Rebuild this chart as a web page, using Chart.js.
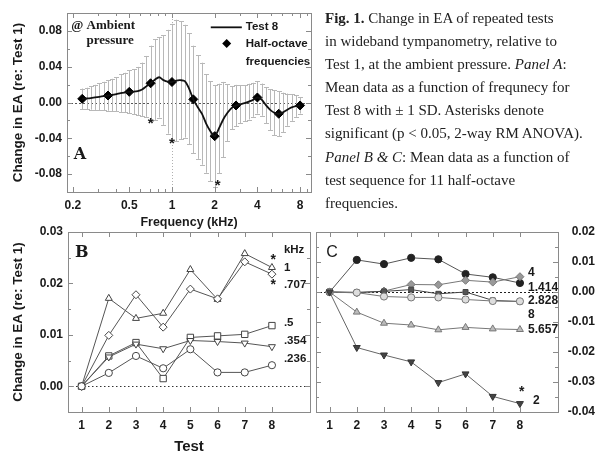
<!DOCTYPE html>
<html>
<head>
<meta charset="utf-8">
<script src="https://cdn.jsdelivr.net/npm/chart.js@4.4.0/dist/chart.umd.min.js"></script>
<style>
  body { margin: 0; background: #fff; }
  #wrap { position: relative; width: 595px; height: 454px; overflow: hidden; background: #fff; }
  canvas { position: absolute; }
  #caption { position: absolute; left: 325px; top: 7px; font-family: "Liberation Serif", serif; font-size: 15px;
             line-height: 23.1px; color: #222; white-space: nowrap; }
</style>
</head>
<body>
<div id="wrap">
  <canvas id="chartA" width="330" height="232" style="left:0;top:0"></canvas>
  <canvas id="chartB" width="318" height="239" style="left:0;top:215px"></canvas>
  <canvas id="chartC" width="285" height="239" style="left:310px;top:215px"></canvas>
  <div id="caption">
    <div><b>Fig. 1.</b> Change in EA of repeated tests</div>
    <div>in wideband tympanometry, relative to</div>
    <div>Test 1, at the ambient pressure. <i>Panel A</i>:</div>
    <div>Mean data as a function of frequnecy for</div>
    <div>Test 8 with ± 1 SD. Asterisks denote</div>
    <div>significant (p &lt; 0.05, 2-way RM ANOVA).</div>
    <div><i>Panel B &amp; C</i>: Mean data as a function of</div>
    <div>test sequence for 11 half-octave</div>
    <div>frequencies.</div>
  </div>
</div>
<script>
// ---- panel A : Test 8 vs frequency (1/10 octave), mean and SD
const freqs = [0.233, 0.25, 0.268, 0.287, 0.308, 0.330, 0.354, 0.379, 0.406, 0.435, 0.467, 0.5,
  0.536, 0.574, 0.616, 0.660, 0.707, 0.758, 0.812, 0.871, 0.933, 1, 1.072, 1.149,
  1.231, 1.320, 1.414, 1.516, 1.625, 1.741, 1.866, 2, 2.144, 2.297, 2.462,
  2.639, 2.828, 3.031, 3.249, 3.482, 3.732, 4, 4.287, 4.595, 4.925, 5.278,
  5.657, 6.063, 6.498, 6.964, 7.464, 8];
const test8Mean = [0.0041, 0.0045, 0.0050, 0.0057, 0.0064, 0.0071, 0.0078, 0.0085, 0.0094, 0.0104, 0.0112, 0.0119,
  0.0121, 0.0128, 0.0146, 0.0180, 0.0215, 0.0255, 0.0282, 0.0250, 0.0232, 0.0229, 0.0245, 0.0249,
  0.0238, 0.0155, 0.0035, -0.0050, -0.0125, -0.0235, -0.0320, -0.0376, -0.0290, -0.0190, -0.0115,
  -0.0060, -0.0033, -0.0020, -0.0008, 0.0010, 0.0030, 0.0056, 0.0032, -0.0030, -0.0082, -0.0115,
  -0.0126, -0.0110, -0.0080, -0.0055, -0.0040, -0.0033];
const test8SD = [0.0115, 0.012, 0.013, 0.014, 0.015, 0.016, 0.017, 0.018, 0.019, 0.021, 0.022, 0.024,
  0.025, 0.027, 0.030, 0.034, 0.042, 0.045, 0.045, 0.050, 0.058, 0.065, 0.068, 0.066,
  0.063, 0.062, 0.060, 0.058, 0.057, 0.055, 0.056, 0.057, 0.050, 0.042, 0.032,
  0.024, 0.023, 0.021, 0.020, 0.020, 0.019, 0.018, 0.018, 0.020, 0.023, 0.025,
  0.025, 0.022, 0.018, 0.015, 0.012, 0.009];
const halfOctFreqs = [0.233, 0.354, 0.5, 0.707, 1, 1.414, 2, 2.828, 4, 5.657, 8];
const halfOctMean = [0.0041, 0.0078, 0.0119, 0.0215, 0.0229, 0.0035, -0.0376, -0.0033, 0.0056, -0.0126, -0.0033];
const freqTicks = [0.2, 0.3, 0.4, 0.5, 0.6, 0.7, 0.8, 0.9, 1, 2, 3, 4, 5, 6, 7, 8, 9];
const freqLabels = [0.2, 0.5, 1, 2, 4, 8];
const eaTicksA = [-0.1, -0.08, -0.06, -0.04, -0.02, 0, 0.02, 0.04, 0.06, 0.08, 0.1];
const eaLabelsA = [-0.08, -0.04, 0, 0.04, 0.08];

// ---- panels B and C : change vs test number, per half-octave frequency (kHz)
const tests = [1, 2, 3, 4, 5, 6, 7, 8];
const b1000 = [0, 0.0171, 0.0132, 0.0142, 0.0227, 0.0169, 0.0258, 0.0231];
const b707 = [0, 0.0099, 0.0178, 0.0115, 0.0189, 0.0170, 0.0242, 0.0218];
const b500 = [0, 0.0059, 0.0085, 0.0015, 0.0095, 0.0098, 0.0101, 0.0118];
const b354 = [0, 0.0057, 0.0082, 0.0073, 0.0089, 0.0087, 0.0084, 0.0077];
const b236 = [0, 0.0026, 0.0059, 0.0035, 0.0072, 0.0027, 0.0027, 0.0041];
const eaTicksB = [-0.005, 0, 0.005, 0.01, 0.015, 0.02, 0.025, 0.03];
const eaLabelsB = [0, 0.01, 0.02, 0.03];

const c4000 = [0, -0.0003, 0.0003, 0.0025, 0.0024, 0.0039, 0.0033, 0.0051];
const c1414 = [0, 0.0107, 0.0093, 0.0114, 0.0109, 0.0060, 0.0049, 0.0030];
const c2828 = [0, -0.0002, -0.0015, -0.0018, -0.0018, -0.0025, -0.0030, -0.0031];
const c8000 = [0, -0.0001, 0.0002, 0.0008, -0.0006, 0.0000, -0.0028, -0.0032];
const c5657 = [0, -0.0067, -0.0104, -0.0110, -0.0126, -0.0118, -0.0123, -0.0125];
const c2000 = [0, -0.0185, -0.0210, -0.0233, -0.0302, -0.0273, -0.0348, -0.0372];
const eaTicksC = [-0.04, -0.035, -0.03, -0.025, -0.02, -0.015, -0.01, -0.005, 0, 0.005, 0.01, 0.015, 0.02];
const eaLabelsC = [-0.04, -0.03, -0.02, -0.01, 0, 0.01, 0.02];

const SANS = "'Liberation Sans', Arial, sans-serif";
const SERIF = "'DejaVu Serif', serif";
Chart.defaults.font.family = SANS;
Chart.defaults.color = '#1a1a1a';

// frame, inner ticks, reference lines, error bars and text notes
const ann = {
  id: 'ann',
  beforeDatasetsDraw(chart, args, o) {
    const {ctx, chartArea: a, scales: {x, y}} = chart;
    ctx.save();
    ctx.lineWidth = 1;
    (o.vlines || []).forEach(v => {
      const px = Math.round(x.getPixelForValue(v.value)) + 0.5;
      ctx.strokeStyle = v.color; ctx.setLineDash(v.dash);
      ctx.beginPath(); ctx.moveTo(px, a.top); ctx.lineTo(px, a.bottom); ctx.stroke();
    });
    (o.hlines || []).forEach(h => {
      const py = Math.round(y.getPixelForValue(h.value)) + 0.5;
      ctx.strokeStyle = h.color; ctx.setLineDash(h.dash);
      ctx.beginPath(); ctx.moveTo(a.left, py); ctx.lineTo(a.right, py); ctx.stroke();
    });
    ctx.setLineDash([]);
    if (o.err) {
      ctx.strokeStyle = o.err.color;
      for (let i = 0; i < freqs.length; i++) {
        const px = Math.round(x.getPixelForValue(freqs[i])) + 0.5;
        const y1 = y.getPixelForValue(test8Mean[i] - test8SD[i]);
        const y2 = y.getPixelForValue(test8Mean[i] + test8SD[i]);
        ctx.beginPath();
        ctx.moveTo(px, y1); ctx.lineTo(px, y2);
        ctx.moveTo(px - 2.5, Math.round(y1) + 0.5); ctx.lineTo(px + 2.5, Math.round(y1) + 0.5);
        ctx.moveTo(px - 2.5, Math.round(y2) + 0.5); ctx.lineTo(px + 2.5, Math.round(y2) + 0.5);
        ctx.stroke();
      }
    }
    ctx.restore();
  },
  afterDatasetsDraw(chart, args, o) {
    const {ctx, scales: {x, y}} = chart;
    ctx.save();
    if (o.legend) {
      const L = o.legend;
      const ly = y.getPixelForValue(L.lineY);
      ctx.strokeStyle = '#111'; ctx.lineWidth = 1.8;
      ctx.beginPath(); ctx.moveTo(x.getPixelForValue(L.x1), ly); ctx.lineTo(x.getPixelForValue(L.x2), ly); ctx.stroke();
      const dx = x.getPixelForValue(L.dx), dy = y.getPixelForValue(L.dy);
      ctx.fillStyle = '#000';
      ctx.beginPath(); ctx.moveTo(dx, dy - 4.5); ctx.lineTo(dx + 4.5, dy); ctx.lineTo(dx, dy + 4.5); ctx.lineTo(dx - 4.5, dy); ctx.fill();
    }
    (o.texts || []).forEach(t => {
      ctx.font = t.font;
      ctx.fillStyle = t.color || '#1a1a1a';
      ctx.textAlign = t.align || 'left';
      ctx.textBaseline = 'middle';
      ctx.fillText(t.text, x.getPixelForValue(t.x), y.getPixelForValue(t.y));
    });
    ctx.restore();
  },
  afterDraw(chart, args, o) {
    const {ctx, chartArea: a} = chart;
    ctx.save();
    ctx.strokeStyle = o.frame || '#888';
    ctx.lineWidth = 1;
    ctx.strokeRect(Math.round(a.left) + 0.5, Math.round(a.top) + 0.5, Math.round(a.right - a.left), Math.round(a.bottom - a.top));
    Object.values(chart.scales).forEach(s => {
      s.ticks.forEach(t => {
        const len = t.label !== '' ? 5 : 3;
        const p = Math.round(s.getPixelForValue(t.value)) + 0.5;
        ctx.beginPath();
        if (s.isHorizontal()) {
          ctx.moveTo(p, a.bottom); ctx.lineTo(p, a.bottom - len);
          ctx.moveTo(p, a.top); ctx.lineTo(p, a.top + len);
        } else {
          ctx.moveTo(a.left, p); ctx.lineTo(a.left + len, p);
          ctx.moveTo(a.right, p); ctx.lineTo(a.right - len, p);
        }
        ctx.stroke();
      });
    });
    ctx.restore();
  }
};

const tickFont = {family: SANS, weight: 'bold', size: 12};
const yTitle = {display: true, text: 'Change in EA (re: Test 1)', color: '#1a1a1a',
  font: {family: SANS, weight: 'bold', size: 13.5}, padding: {top: 10.4, bottom: 0}};
const noGrid = {display: false, drawTicks: false};

new Chart(document.getElementById('chartA'), {
  type: 'line',
  data: {
    datasets: [{
      label: 'Test 8',
      data: freqs.map((f, i) => ({x: f, y: test8Mean[i]})),
      borderColor: '#111', borderWidth: 1.8, pointRadius: 0, tension: 0.3, fill: false
    }, {
      label: 'Half-octave frequencies',
      data: halfOctFreqs.map((f, i) => ({x: f, y: halfOctMean[i]})),
      showLine: false, pointStyle: 'rectRot', pointRadius: 4.5,
      pointBackgroundColor: '#000', pointBorderColor: '#000'
    }]
  },
  options: {
    responsive: false, animation: false, devicePixelRatio: 1,
    layout: {padding: {left: 0, top: 13, right: 19, bottom: 0}},
    plugins: {
      legend: {display: false}, tooltip: {enabled: false},
      ann: {
        frame: '#8a8a8a',
        vlines: [{value: 1, color: '#b0b0b0', dash: [1, 2]}],
        hlines: [{value: 0, color: '#555', dash: [2, 2]}],
        err: {color: '#b8b8b8'},
        legend: {x1: 1.877, x2: 3.107, lineY: 0.084, dx: 2.43, dy: 0.066},
        texts: [
          {x: 3.31, y: 0.084, text: 'Test 8', font: 'bold 11.5px ' + SANS},
          {x: 3.31, y: 0.066, text: 'Half-octave', font: 'bold 11.5px ' + SANS},
          {x: 3.31, y: 0.046, text: 'frequencies', font: 'bold 11.5px ' + SANS},
          {x: 0.195, y: 0.0863, text: '@ Ambient', font: 'bold 13px ' + "'Liberation Serif', serif"},
          {x: 0.25, y: 0.0695, text: 'pressure', font: 'bold 13px ' + "'Liberation Serif', serif"},
          {x: 0.2245, y: -0.0583, text: 'A', align: 'center', font: 'bold 16px ' + SERIF},
          {x: 0.708, y: -0.0235, text: '*', align: 'center', font: 'bold 15px ' + SANS},
          {x: 1.0, y: -0.0459, text: '*', align: 'center', font: 'bold 15px ' + SANS},
          {x: 2.10, y: -0.093, text: '*', align: 'center', font: 'bold 15px ' + SANS}
        ]
      }
    },
    scales: {
      x: {
        type: 'logarithmic', min: 0.182, max: 9.55,
        afterBuildTicks: s => { s.ticks = freqTicks.map(v => ({value: v})); },
        afterFit: s => { s.height = 40; },
        ticks: {autoSkip: false, maxRotation: 0, padding: 6, font: tickFont, color: '#1a1a1a',
          callback: v => freqLabels.includes(v) ? String(v) : ''},
        grid: noGrid, border: {display: false},
        title: {display: true, text: 'Frequency (kHz)', color: '#1a1a1a',
          font: {family: SANS, weight: 'bold', size: 12.5}, padding: {top: 0, bottom: 2.2}}
      },
      y: {
        min: -0.1, max: 0.1,
        afterBuildTicks: s => { s.ticks = eaTicksA.map(v => ({value: v})); },
        afterFit: s => { s.width = 67; },
        ticks: {autoSkip: false, padding: 5, font: tickFont, color: '#1a1a1a',
          callback: v => eaLabelsA.includes(v) ? v.toFixed(2) : ''},
        grid: noGrid, border: {display: false},
        title: yTitle
      }
    }
  },
  plugins: [ann]
});

function series(vals, style, rot, fill, stroke, line, radius) {
  return {
    data: tests.map((t, i) => ({x: t, y: vals[i]})),
    borderColor: line, borderWidth: 1, tension: 0, fill: false,
    pointStyle: style, rotation: rot, pointRadius: radius,
    pointBackgroundColor: fill, pointBorderColor: stroke, pointBorderWidth: 1
  };
}

const testAxis = {
  type: 'linear', min: 0.5, max: 9.4,
  afterBuildTicks: s => { s.ticks = tests.map(v => ({value: v})); },
  afterFit: s => { s.height = 42; },
  ticks: {autoSkip: false, maxRotation: 0, padding: 6, font: tickFont, color: '#1a1a1a', callback: v => String(v)},
  grid: noGrid, border: {display: false}
};

new Chart(document.getElementById('chartB'), {
  type: 'line',
  data: {
    datasets: [
      series(b236, 'circle', 0, '#fff', '#444', '#555', 3.6),
      series(b354, 'triangle', 180, '#fff', '#444', '#555', 4),
      series(b500, 'rect', 0, '#fff', '#444', '#555', 4.5),
      series(b707, 'rectRot', 0, '#fff', '#444', '#555', 4),
      series(b1000, 'triangle', 0, '#fff', '#444', '#555', 4)
    ]
  },
  options: {
    responsive: false, animation: false, devicePixelRatio: 1,
    layout: {padding: {left: 0, top: 17, right: 8, bottom: 0}},
    plugins: {
      legend: {display: false}, tooltip: {enabled: false},
      ann: {
        frame: '#8a8a8a',
        hlines: [{value: 0, color: '#333', dash: [1.5, 2.5]}],
        texts: [
          {x: 1.01, y: 0.0259, text: 'B', align: 'center', font: 'bold 16px ' + SERIF},
          {x: 8.44, y: 0.0266, text: 'kHz', font: 'bold 11.5px ' + SANS},
          {x: 8.05, y: 0.0245, text: '*', align: 'center', font: 'bold 14px ' + SANS},
          {x: 8.44, y: 0.0231, text: '1', font: 'bold 11.5px ' + SANS},
          {x: 8.05, y: 0.0196, text: '*', align: 'center', font: 'bold 14px ' + SANS},
          {x: 8.44, y: 0.0198, text: '.707', font: 'bold 11.5px ' + SANS},
          {x: 8.44, y: 0.0124, text: '.5', font: 'bold 11.5px ' + SANS},
          {x: 8.44, y: 0.0089, text: '.354', font: 'bold 11.5px ' + SANS},
          {x: 8.44, y: 0.0054, text: '.236', font: 'bold 11.5px ' + SANS}
        ]
      }
    },
    scales: {
      x: Object.assign({}, testAxis, {
        title: {display: true, text: 'Test', color: '#1a1a1a',
          font: {family: SANS, weight: 'bold', size: 15, lineHeight: 1}, padding: {top: 0, bottom: 0}}
      }),
      y: {
        min: -0.005, max: 0.03,
        afterBuildTicks: s => { s.ticks = eaTicksB.map(v => ({value: v})); },
        afterFit: s => { s.width = 68; },
        ticks: {autoSkip: false, padding: 5, font: tickFont, color: '#1a1a1a',
          callback: v => eaLabelsB.includes(v) ? v.toFixed(2) : ''},
        grid: noGrid, border: {display: false},
        title: yTitle
      }
    }
  },
  plugins: [ann]
});

new Chart(document.getElementById('chartC'), {
  type: 'line',
  data: {
    datasets: [
      series(c2000, 'triangle', 180, '#444', '#333', '#666', 4),
      series(c5657, 'triangle', 0, '#bbb', '#777', '#777', 4),
      series(c2828, 'circle', 0, '#ddd', '#777', '#777', 3.6),
      series(c8000, 'rect', 0, '#555', '#444', '#444', 3.5),
      series(c4000, 'rectRot', 0, '#999', '#777', '#777', 4),
      series(c1414, 'circle', 0, '#222', '#222', '#555', 3.6)
    ]
  },
  options: {
    responsive: false, animation: false, devicePixelRatio: 1,
    layout: {padding: {left: 6, top: 17, right: 0, bottom: 0}},
    plugins: {
      legend: {display: false}, tooltip: {enabled: false},
      ann: {
        frame: '#8a8a8a',
        hlines: [{value: 0, color: '#222', dash: [2, 2]}],
        texts: [
          {x: 1.09, y: 0.013, text: 'C', align: 'center', font: '16px ' + SANS},
          {x: 8.30, y: 0.0066, text: '4', font: 'bold 12px ' + SANS},
          {x: 8.30, y: 0.0014, text: '1.414', font: 'bold 12px ' + SANS},
          {x: 8.30, y: -0.0029, text: '2.828', font: 'bold 12px ' + SANS},
          {x: 8.30, y: -0.0077, text: '8', font: 'bold 12px ' + SANS},
          {x: 8.30, y: -0.0127, text: '5.657', font: 'bold 12px ' + SANS},
          {x: 8.07, y: -0.0334, text: '*', align: 'center', font: 'bold 14px ' + SANS},
          {x: 8.48, y: -0.0361, text: '2', font: 'bold 12px ' + SANS}
        ]
      }
    },
    scales: {
      x: testAxis,
      y: {
        position: 'right', min: -0.04, max: 0.02,
        afterBuildTicks: s => { s.ticks = eaTicksC.map(v => ({value: v})); },
        afterFit: s => { s.width = 37; },
        ticks: {autoSkip: false, padding: 8, crossAlign: 'far', font: tickFont, color: '#1a1a1a',
          callback: v => eaLabelsC.includes(v) ? v.toFixed(2) : ''},
        grid: noGrid, border: {display: false}
      }
    }
  },
  plugins: [ann]
});
</script>
</body>
</html>
